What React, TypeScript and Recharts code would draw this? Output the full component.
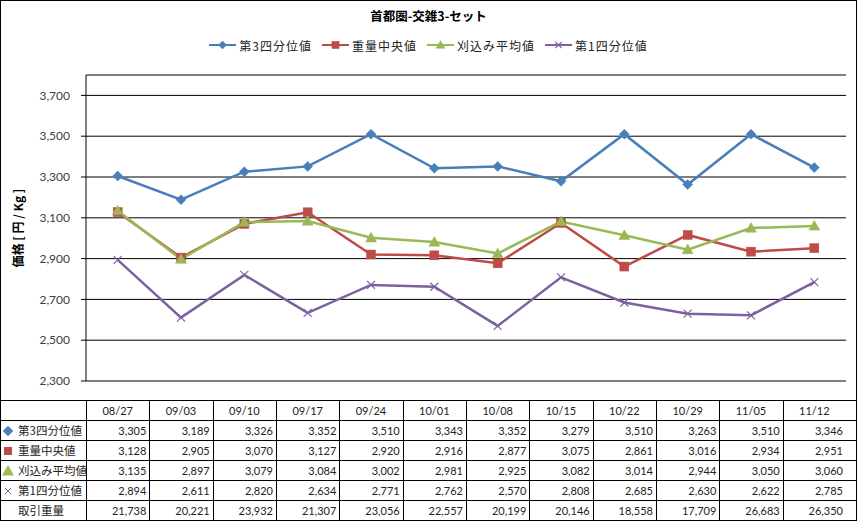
import React from 'react';
import { LineChart, Line, XAxis, YAxis, CartesianGrid } from 'recharts';

const title = '首都圏-交雑3-セット';
const yLabel = '価格 [ 円 / Kg ]';
const categories = ['08/27', '09/03', '09/10', '09/17', '09/24', '10/01', '10/08', '10/15', '10/22', '10/29', '11/05', '11/12'];
const q3Values = [3305, 3189, 3326, 3352, 3510, 3343, 3352, 3279, 3510, 3263, 3510, 3346];
const medianValues = [3128, 2905, 3070, 3127, 2920, 2916, 2877, 3075, 2861, 3016, 2934, 2951];
const trimmedValues = [3135, 2897, 3079, 3084, 3002, 2981, 2925, 3082, 3014, 2944, 3050, 3060];
const q1Values = [2894, 2611, 2820, 2634, 2771, 2762, 2570, 2808, 2685, 2630, 2622, 2785];
const volumeValues = [21738, 20221, 23932, 21307, 23056, 22557, 20199, 20146, 18558, 17709, 26683, 26350];
const volumeLabel = '取引重量';
const yTicks = [2300, 2500, 2700, 2900, 3100, 3300, 3500, 3700];
const yDomain = [2300, 3800];

const series = [
  { key: 'q3', name: '第3四分位値', values: q3Values, color: '#4A7EBB', marker: 'diamond' },
  { key: 'median', name: '重量中央値', values: medianValues, color: '#BE4B48', marker: 'square' },
  { key: 'trimmed', name: '刈込み平均値', values: trimmedValues, color: '#98B954', marker: 'triangle' },
  { key: 'q1', name: '第1四分位値', values: q1Values, color: '#7D60A0', marker: 'x' },
];

const data = categories.map((c, i) => {
  const row: any = { cat: c };
  series.forEach((s) => { row[s.key] = s.values[i]; });
  return row;
});

const fmt = (v: number) => v.toLocaleString('en-US');

const FONT = "Lato, 'Noto Sans CJK JP', sans-serif";
const JFONT = "'Noto Sans CJK JP', sans-serif";

function Marker({ type, cx, cy, color, s = 1 }: { type: string; cx: number; cy: number; color: string; s?: number }) {
  if (cx == null || cy == null) return null;
  if (type === 'diamond') {
    const r = 5 * s;
    return <polygon points={`${cx},${cy - r} ${cx + r},${cy} ${cx},${cy + r} ${cx - r},${cy}`} fill={color} stroke={color} strokeWidth={0.5} />;
  }
  if (type === 'square') {
    const h = 4.5 * s;
    return <rect x={cx - h} y={cy - h} width={2 * h} height={2 * h} fill={color} stroke={color} strokeWidth={0.5} />;
  }
  if (type === 'triangle') {
    const r = 5.5 * s;
    return <polygon points={`${cx},${cy - r} ${cx + r},${cy + r * 0.75} ${cx - r},${cy + r * 0.75}`} fill={color} stroke={color} strokeWidth={0.5} />;
  }
  const r = 4 * s;
  return (
    <g stroke={color} strokeWidth={1.2}>
      <line x1={cx - r} y1={cy - r} x2={cx + r} y2={cy + r} />
      <line x1={cx - r} y1={cy + r} x2={cx + r} y2={cy - r} />
    </g>
  );
}

const PLOT_LEFT = 86;
const PLOT_RIGHT = 846;
const CAT_W = (PLOT_RIGHT - PLOT_LEFT) / categories.length;
const TABLE_TOP = 400;
const ROW_H = 20;

function DataTable() {
  const rows = [
    ...series.map((s) => ({ label: s.name, marker: s.marker, color: s.color, values: s.values })),
    { label: volumeLabel, marker: null as any, color: '', values: volumeValues },
  ];
  const els: any[] = [];
  for (let r = 0; r <= rows.length; r++) {
    els.push(<div key={`h${r}`} style={{ position: 'absolute', left: 0, top: TABLE_TOP + r * ROW_H, width: 857, height: 1, background: '#000' }} />);
  }
  for (let c = 0; c < categories.length; c++) {
    const x = Math.round(PLOT_LEFT + c * CAT_W);
    els.push(<div key={`v${c}`} style={{ position: 'absolute', left: x, top: TABLE_TOP, width: 1, height: 121, background: '#000' }} />);
  }
  categories.forEach((c, i) => {
    const x = PLOT_LEFT + i * CAT_W;
    els.push(
      <div key={`hd${i}`} style={{ position: 'absolute', left: x, top: TABLE_TOP + 1, width: CAT_W, height: ROW_H - 1, lineHeight: `${ROW_H - 1}px`, textAlign: 'center', fontSize: 11, fontFamily: FONT, color: '#222' }}>{c}</div>
    );
  });
  rows.forEach((row, r) => {
    const top = TABLE_TOP + (r + 1) * ROW_H + 1;
    els.push(
      <div key={`lb${r}`} style={{ position: 'absolute', left: 18, top, height: ROW_H - 1, lineHeight: `${ROW_H - 1}px`, fontSize: 11.5, fontFamily: JFONT, color: '#222', whiteSpace: 'nowrap' }}>{row.label}</div>
    );
    if (row.marker) {
      els.push(
        <svg key={`mk${r}`} width={14} height={14} style={{ position: 'absolute', left: 1, top: top + 3 }}>
          {row.marker === 'square' ? (
            <rect x={3} y={3} width={8} height={8} fill={row.color} />
          ) : row.marker === 'x' ? (
            <g stroke={row.color} strokeWidth={1}>
              <line x1={4} y1={4} x2={10} y2={10} />
              <line x1={4} y1={10} x2={10} y2={4} />
            </g>
          ) : (
            <Marker type={row.marker} cx={7} cy={7} color={row.color} />
          )}
        </svg>
      );
    }
    row.values.forEach((v, i) => {
      const x = PLOT_LEFT + i * CAT_W;
      els.push(
        <div key={`c${r}-${i}`} style={{ position: 'absolute', left: x, top, width: CAT_W - 3, height: ROW_H - 1, lineHeight: `${ROW_H - 1}px`, textAlign: 'right', fontSize: 11, fontFamily: FONT, color: '#222' }}>{fmt(v)}</div>
      );
    });
  });
  return <>{els}</>;
}

function LegendBar() {
  return (
    <div style={{ position: 'absolute', left: 0, top: 36, width: 857, height: 18, display: 'flex', justifyContent: 'center', alignItems: 'center', gap: 10 }}>
      {series.map((s) => (
        <div key={s.key} style={{ display: 'flex', alignItems: 'center' }}>
          <svg width={27} height={14}>
            <line x1={0} y1={7} x2={27} y2={7} stroke={s.color} strokeWidth={2} />
            <Marker type={s.marker} cx={13.5} cy={7} color={s.color} s={0.8} />
          </svg>
          <span style={{ marginLeft: 3, fontSize: 12, letterSpacing: 1, fontFamily: JFONT, color: '#222', whiteSpace: 'nowrap' }}>{s.name}</span>
        </div>
      ))}
    </div>
  );
}

export default function App() {
  return (
    <div style={{ position: 'relative', width: 857, height: 521, background: '#fff', overflow: 'hidden' }}>
      <style>{`body{margin:0}`}</style>
      <div style={{ position: 'absolute', left: 0, top: 6, width: 857, textAlign: 'center', fontSize: 12.5, fontWeight: 'bold', fontFamily: JFONT, color: '#000' }}>{title}</div>
      <LegendBar />
      <div style={{ position: 'absolute', left: 18 - 100, top: 228 - 9, width: 200, height: 18, lineHeight: '18px', textAlign: 'center', transform: 'rotate(-90deg)', fontSize: 12, fontWeight: 'bold', fontFamily: JFONT, color: '#000', whiteSpace: 'nowrap' }}>{yLabel}</div>
      <div style={{ position: 'absolute', left: 0, top: 0 }}>
        <LineChart width={857} height={400} data={data} margin={{ top: 75, right: 857 - PLOT_RIGHT, left: 0, bottom: 19 }}>
          <CartesianGrid vertical={false} stroke="#000" strokeWidth={1} />
          <XAxis dataKey="cat" hide padding={{ left: CAT_W / 2, right: CAT_W / 2 }} />
          <YAxis
            width={PLOT_LEFT}
            domain={yDomain}
            ticks={yTicks}
            type="number"
            allowDataOverflow
            tickFormatter={fmt}
            axisLine={{ stroke: '#000' }}
            tickLine={{ stroke: '#000' }}
            tickSize={5}
            tickMargin={11}
            tick={{ fontSize: 12, fill: '#404040', fontFamily: FONT }}
          />
          {series.map((s) => (
            <Line
              key={s.key}
              dataKey={s.key}
              name={s.name}
              type="linear"
              stroke={s.color}
              strokeWidth={2.5}
              isAnimationActive={false}
              dot={(p: any) => <Marker key={`${s.key}-${p.index}`} type={s.marker} cx={p.cx} cy={p.cy} color={s.color} />}
              activeDot={false}
            />
          ))}
        </LineChart>
      </div>
      <DataTable />
      <div style={{ position: 'absolute', left: 0, top: 0, width: 857, height: 521, boxSizing: 'border-box', border: '1px solid #000', pointerEvents: 'none' }} />
    </div>
  );
}
